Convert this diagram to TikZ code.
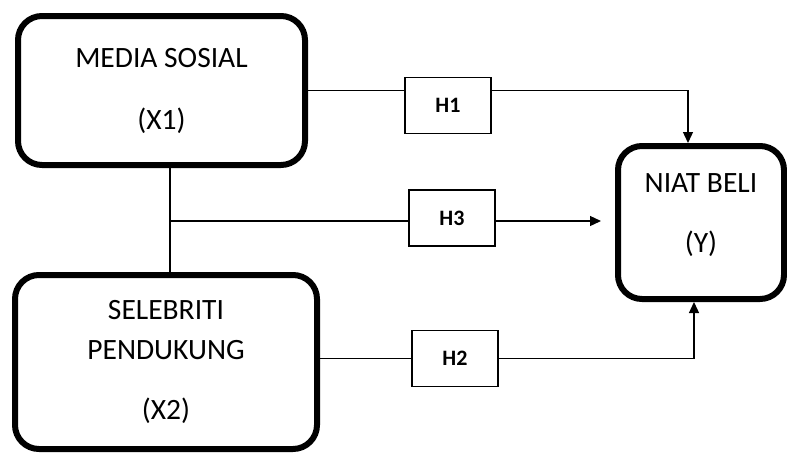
\documentclass[tikz,border=0pt]{standalone}
\usepackage{fontspec}
\setmainfont{Carlito}
\usetikzlibrary{arrows.meta}

\begin{document}
\begin{tikzpicture}[x=1pt,y=-1pt,
    varbox/.style={draw,line width=6pt,rounded corners=24pt,align=center,
        inner sep=0pt,font=\fontsize{29.5}{35}\selectfont},
    hypbox/.style={draw,line width=1.3pt,minimum width=86pt,minimum height=56pt,
        inner sep=0pt,font=\bfseries\fontsize{22}{26}\selectfont},
    link/.style={line width=1.3pt},
    arrow/.style={line width=1.3pt,-{Triangle[length=11pt,width=10pt]}}]
    \useasboundingbox (0,0) rectangle (787,453);

    % Draw variable boxes
    \node[varbox,minimum width=287pt,minimum height=149pt] (media) at (161.5,90.5)
        {MEDIA SOSIAL\\[27pt](X1)};
    \node[varbox,minimum width=302pt,minimum height=174pt] (selebriti) at (166,362)
        {SELEBRITI\\[5pt]PENDUKUNG\\[25pt](X2)};
    \node[varbox,minimum width=166pt,minimum height=153pt] (niat) at (701,222.5)
        {NIAT BELI\\[25pt](Y)\\[-16pt]};

    % Draw hypothesis boxes
    \node[hypbox] (h1) at (448,105.5) {H1};
    \node[hypbox] (h3) at (452,218) {H3};
    \node[hypbox] (h2) at (455,358.5) {H2};

    % Draw H1 path
    \draw[link] (media.east) -- (media.east -| h1.west);
    \draw[arrow] (media.east -| h1.east) -| ([xshift=-13pt]niat.north);

    % Draw H3 path
    \coordinate (join) at (170,221);
    \draw[link] (join |- media.south) -- (join |- selebriti.north);
    \draw[link] (join) -- (join -| h3.west);
    \draw[arrow] (join -| h3.east) -- ([xshift=-14pt]niat.west |- join);

    % Draw H2 path
    \draw[link] (selebriti.east |- h2.west) -- (h2.west);
    \draw[arrow] (h2.east) -| ([xshift=-7pt]niat.south);
\end{tikzpicture}
\end{document}
